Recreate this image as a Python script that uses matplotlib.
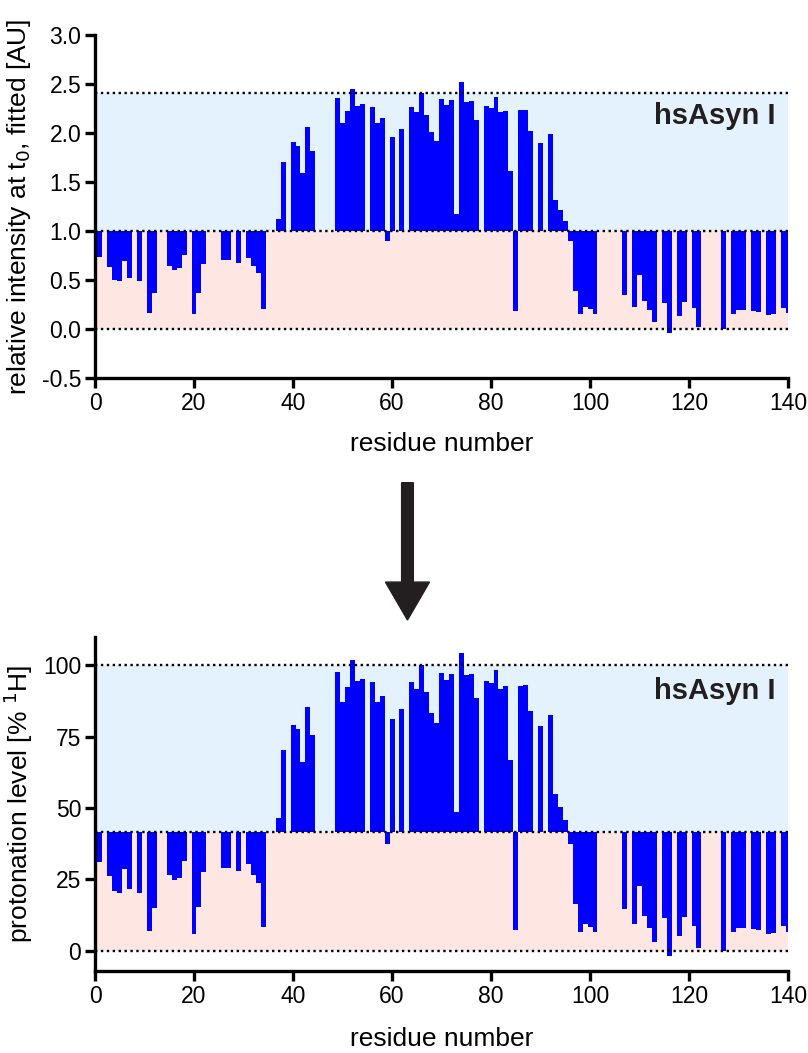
import numpy as np
import matplotlib
matplotlib.use('Agg')
from matplotlib import pyplot as plt
from matplotlib.patches import FancyArrow

plt.rcParams['font.family'] = ['Liberation Sans', 'DejaVu Sans']

# residue numbers that have a value
residues = [1, 3, 4, 5, 6, 7, 9, 11, 12, 15, 16, 17, 18, 20, 21, 22, 26, 27, 29,
            31, 32, 33, 34, 37, 38, 40, 41, 42, 43, 44, 49, 50, 51, 52, 53, 54,
            56, 57, 58, 59, 60, 62, 64, 65, 66, 67, 68, 69, 70, 71, 72, 73, 74,
            75, 76, 77, 79, 80, 81, 82, 83, 84, 85, 86, 87, 88, 90, 92, 93, 94,
            95, 96, 97, 98, 99, 100, 101, 107, 109, 110, 111, 112, 113, 115,
            116, 118, 119, 121, 122, 127, 129, 130, 131, 133, 134, 136, 137,
            139, 140]

# relative intensity at t0 [AU]
intensity = [0.74, 0.63, 0.50, 0.49, 0.69, 0.52, 0.49, 0.16, 0.37, 0.64, 0.60,
             0.62, 0.76, 0.15, 0.37, 0.66, 0.70, 0.70, 0.67, 0.73, 0.64, 0.57,
             0.20, 1.12, 1.70, 1.91, 1.87, 1.59, 2.06, 1.82, 2.36, 2.10, 2.23,
             2.45, 2.28, 2.30, 2.27, 2.10, 2.15, 0.90, 1.96, 2.04, 2.27, 2.21,
             2.41, 2.18, 2.01, 1.92, 2.35, 2.29, 2.34, 1.17, 2.52, 2.32, 2.33,
             2.13, 2.28, 2.26, 2.37, 2.21, 2.23, 1.61, 0.18, 2.24, 2.24, 2.02,
             1.90, 1.99, 1.32, 1.21, 1.10, 0.90, 0.39, 0.15, 0.22, 0.20, 0.15,
             0.35, 0.22, 0.55, 0.29, 0.19, 0.07, 0.27, -0.04, 0.13, 0.28, 0.21,
             0.02, -0.00, 0.15, 0.19, 0.19, 0.18, 0.17, 0.14, 0.15, 0.21, 0.16]

# protonation level [% 1H]
protonation = [30.9, 26.1, 21.0, 20.1, 28.6, 21.6, 20.1, 6.8, 15.1, 26.6, 24.9,
               25.5, 31.5, 6.0, 15.4, 27.4, 29.0, 29.0, 27.8, 30.3, 26.6, 23.7,
               8.3, 46.3, 70.4, 79.2, 77.5, 66.1, 85.5, 75.4, 97.7, 87.1, 92.3,
               101.8, 94.4, 95.3, 94.2, 87.1, 89.2, 37.3, 81.2, 84.6, 94.2, 91.7,
               100.1, 90.5, 83.4, 79.6, 97.3, 94.9, 97.0, 48.4, 104.4, 96.4, 96.8,
               88.5, 94.6, 93.6, 98.3, 91.6, 92.6, 66.8, 7.3, 92.7, 93.0, 83.8,
               78.8, 82.6, 54.9, 50.2, 45.6, 37.3, 16.3, 6.4, 9.2, 8.3, 6.4,
               14.6, 9.2, 22.7, 12.0, 7.8, 3.0, 11.3, -1.8, 5.2, 11.7, 8.6,
               1.0, -0.1, 6.4, 7.8, 7.8, 7.5, 7.2, 5.8, 6.1, 8.6, 6.6]

# reference levels: (zero, middle/baseline, top)
levels_top = (0.0, 1.0, 2.41)
levels_bot = (0.0, 41.5, 100.0)

blue_bg = '#e4f2fe'
pink_bg = '#fee7e3'
bar_col = '#0000ff'

fig = plt.figure(figsize=(8.08, 10.53), dpi=100)
ax1 = fig.add_axes([0.1176, 0.641, 0.8577, 0.3257])
ax2 = fig.add_axes([0.1176, 0.0782, 0.8577, 0.3172])


def panel(ax, vals, levels, ylim, yticks, yticklabels, ylabel, label_y, xpad):
    zero, mid, top = levels
    ax.axhspan(zero, mid, color=pink_bg, lw=0, zorder=0)
    ax.axhspan(mid, top, color=blue_bg, lw=0, zorder=0)
    v = np.array(vals)
    ax.bar(residues, v - mid, bottom=mid, width=1.0, color=bar_col,
           linewidth=0, zorder=2)
    for lv in levels:
        ax.axhline(lv, color='black', lw=1.7, ls=(0, (1, 1.5)), zorder=3)
    ax.set_xlim(0, 140)
    ax.set_ylim(*ylim)
    ax.set_xticks(np.arange(0, 141, 20))
    ax.set_yticks(yticks)
    ax.set_yticklabels(yticklabels)
    for s in ['top', 'right']:
        ax.spines[s].set_visible(False)
    for s in ['left', 'bottom']:
        ax.spines[s].set_linewidth(2.4)
    ax.tick_params(width=2.4, length=7, labelsize=16.5, pad=3)
    ax.set_xlabel('residue number', fontsize=19, labelpad=xpad)
    ax.set_ylabel(ylabel, fontsize=19, labelpad=6)
    ax.text(137.5, label_y, 'hsAsyn I', fontsize=21, fontweight='bold',
            color='#231f20', ha='right', va='center', zorder=4)


panel(ax1, intensity, levels_top, (-0.5, 3.0), np.arange(-0.5, 3.01, 0.5),
      ['-0.5', '0.0', '0.5', '1.0', '1.5', '2.0', '2.5', '3.0'],
      'relative intensity at t$_0$, fitted [AU]', 2.17, 12)
panel(ax2, protonation, levels_bot, (-7, 110), [0, 25, 50, 75, 100],
      ['0', '25', '50', '75', '100'],
      'protonation level [% $^1$H]', 91, 14)

arrow = FancyArrow(0.5043, 0.5416, 0, -0.1304, width=0.0145,
                   head_width=0.0545, head_length=0.036,
                   length_includes_head=True, color='#231f20',
                   transform=fig.transFigure)
fig.add_artist(arrow)

fig.savefig('out.png', dpi=100)
